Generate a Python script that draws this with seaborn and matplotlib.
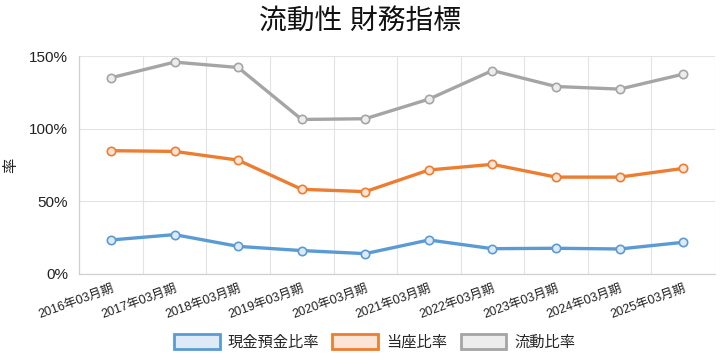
import numpy as np
import pandas as pd
import matplotlib
matplotlib.use("Agg")
import matplotlib.pyplot as plt
import seaborn as sns
from matplotlib.patches import Patch
from matplotlib.ticker import FixedLocator

periods = ["2016年03月期", "2017年03月期", "2018年03月期", "2019年03月期", "2020年03月期",
           "2021年03月期", "2022年03月期", "2023年03月期", "2024年03月期", "2025年03月期"]
cash_ratio = [23.4, 27.1, 19.0, 16.1, 14.0, 23.4, 17.4, 17.7, 17.2, 21.8]
quick_ratio = [84.9, 84.4, 78.4, 58.3, 56.7, 71.6, 75.5, 66.7, 66.7, 72.7]
current_ratio = [135.1, 145.9, 142.2, 106.4, 106.9, 120.4, 140.1, 129.1, 127.3, 137.6]
series_names = ["現金預金比率", "当座比率", "流動比率"]
colors = ["#5B9BD5", "#ED7D31", "#A5A5A5"]
fills = ["#DEEBF7", "#FCE4D6", "#EDEDED"]

sns.set_style("white")
plt.rcParams["font.family"] = ["Liberation Sans", "Noto Sans CJK JP", "DejaVu Sans"]

# long-form table for seaborn
rows = []
for name, vals in zip(series_names, [cash_ratio, quick_ratio, current_ratio]):
    for i, v in enumerate(vals):
        rows.append({"idx": i, "value": v, "series": name})
df = pd.DataFrame(rows)

fig = plt.figure(figsize=(7.2, 3.6), dpi=100)
ax = fig.add_axes([0.11, 0.239, 0.883, 0.605])

sns.lineplot(data=df, x="idx", y="value", hue="series", hue_order=series_names,
             palette=colors, marker="o", markersize=6, linewidth=2.4,
             markeredgewidth=1.2, legend=False, ax=ax, zorder=3)
for line, fc, ec in zip(ax.lines, fills, colors):
    line.set_markerfacecolor(fc)
    line.set_markeredgecolor(ec)

ax.set_xlim(-0.5, len(periods) - 0.5)
ax.set_ylim(0, 150)
ax.set_yticks([0, 50, 100, 150])
ax.set_yticklabels([f"{v}%" for v in [0, 50, 100, 150]], fontsize=11, color="#222222")
ax.set_xticks(range(len(periods)))
ax.set_xticklabels(periods, rotation=20, ha="right", rotation_mode="anchor",
                   fontsize=9, color="#222222")
ax.xaxis.set_minor_locator(FixedLocator(np.arange(-0.5, len(periods), 1.0)))
ax.tick_params(axis="x", which="major", length=0, pad=6)
ax.tick_params(axis="x", which="minor", length=5, color="#d9d9d9", width=0.8)
ax.tick_params(axis="y", length=5, color="#d9d9d9", width=0.8, pad=3)
ax.grid(True, axis="y", color="#e3e3e3", linewidth=0.8)
ax.grid(True, axis="x", which="minor", color="#e3e3e3", linewidth=0.8)
ax.grid(False, axis="x", which="major")
for side in ["top", "right"]:
    ax.spines[side].set_visible(False)
for side in ["left", "bottom"]:
    ax.spines[side].set_color("#d0d0d0")
    ax.spines[side].set_linewidth(0.9)

ax.set_xlabel("")
ax.set_ylabel("率", fontsize=11, color="#222222", labelpad=8)

fig.suptitle("流動性 財務指標", fontsize=20, y=0.975, color="#111111")

handles = [Patch(facecolor=f, edgecolor=c, linewidth=2, label=n)
           for n, c, f in zip(series_names, colors, fills)]
fig.legend(handles=handles, loc="center", bbox_to_anchor=(0.52, 0.05), ncol=3,
           frameon=False, fontsize=11, handlelength=3.0, handleheight=1.1,
           handletextpad=0.5, columnspacing=0.9)

fig.savefig("out.png", dpi=100)
